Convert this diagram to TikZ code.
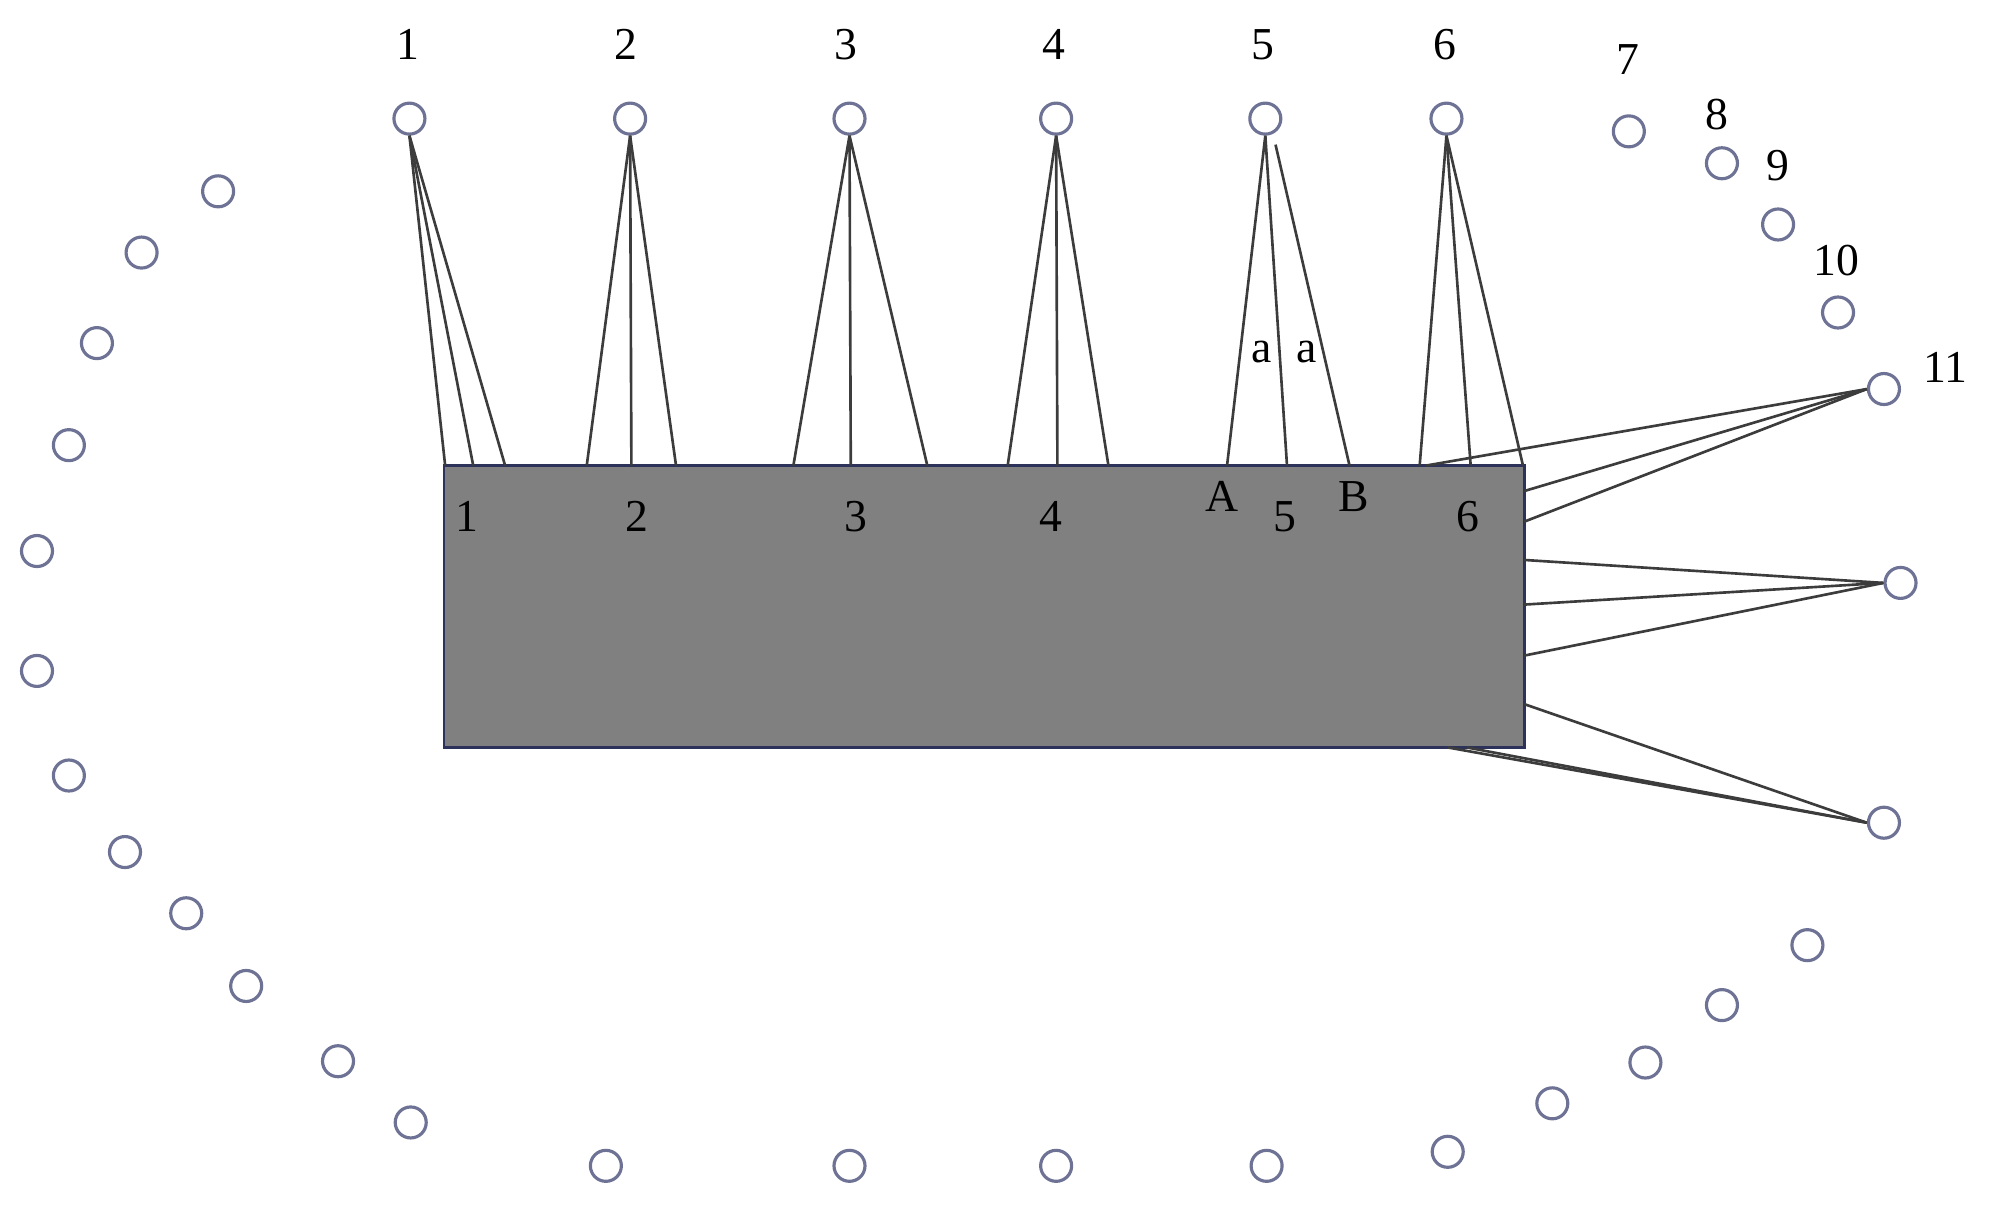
\documentclass[tikz,border=0pt]{standalone}
\usepackage{fontspec}
\setmainfont{Liberation Serif}
\usetikzlibrary{calc}
\definecolor{ringc}{RGB}{110,115,150}
\definecolor{boxfill}{RGB}{128,128,128}
\definecolor{boxline}{RGB}{45,50,90}
\definecolor{wirec}{RGB}{60,60,60}
\begin{document}
\begin{tikzpicture}[x=0.012755cm,y=-0.012755cm,
  ring/.style={circle,draw=ringc,line width=0.9pt,fill=white,minimum size=0.31cm,inner sep=0pt},
  wire/.style={draw=wirec,line width=0.75pt},
  lab/.style={font=\fontsize{13}{15}\selectfont,inner sep=0pt,text=black},
  rectbox/.style={draw=boxline,fill=boxfill,line width=0.8pt,inner sep=0pt,outer sep=0pt,minimum width=10.803cm,minimum height=2.819cm}]
\useasboundingbox (0,0) rectangle (1568,945);
% main block
\node[rectbox] (R) at (771.5,475.5) {};
% top rings
\node[ring] (t1) at (321,93) {};
\node[ring] (t2) at (494,93) {};
\node[ring] (t3) at (666,93) {};
\node[ring] (t4) at (828,93) {};
\node[ring] (t5) at (992,93) {};
\node[ring] (t6) at (1134,93) {};
% top-right arc
\node[ring] (t7) at (1277,103) {};
\node[ring] (t8) at (1350,128) {};
\node[ring] (t9) at (1394,176) {};
\node[ring] (t10) at (1441,245) {};
\node[ring] (r1) at (1477,305) {};
\node[ring] (r2) at (1490,457) {};
\node[ring] (r3) at (1477,645) {};
% bottom-right arc
\node[ring] (b1) at (1417,741) {};
\node[ring] (b2) at (1350,788) {};
\node[ring] (b3) at (1290,833) {};
\node[ring] (b4) at (1217,865) {};
\node[ring] (b5) at (1135,903) {};
% bottom
\node[ring] (b6) at (993,914) {};
\node[ring] (b7) at (828,914) {};
\node[ring] (b8) at (666,914) {};
\node[ring] (b9) at (475,914) {};
% left arc
\node[ring] (l1) at (322,880) {};
\node[ring] (l2) at (265,832) {};
\node[ring] (l3) at (193,773) {};
\node[ring] (l4) at (146,716) {};
\node[ring] (l5) at (98,668) {};
\node[ring] (l6) at (54,608) {};
\node[ring] (l7) at (29,526) {};
\node[ring] (l8) at (29,432) {};
\node[ring] (l9) at (54,349) {};
\node[ring] (l10) at (76,269) {};
\node[ring] (l11) at (111,198) {};
\node[ring] (l12) at (171,150) {};
% ring labels
\node[lab] (n1) at (320,35) {1};
\node[lab] (n2) at (491,35) {2};
\node[lab] (n3) at (663,35) {3};
\node[lab] (n4) at (826,35) {4};
\node[lab] (n5) at (990,35) {5};
\node[lab] (n6) at (1133,35) {6};
\node[lab] (n7) at (1276,47) {7};
\node[lab] (n8) at (1346,90) {8};
\node[lab] (n9) at (1394,130) {9};
\node[lab] (n10) at (1440,204) {10};
\node[lab] (n11) at (1525,288) {11};
% labels inside block
\node[lab] (p1) at (366,405) {1};
\node[lab] (p2) at (499,405) {2};
\node[lab] (p3) at (671,405) {3};
\node[lab] (p4) at (824,405) {4};
\node[lab] (pA) at (958,389) {A};
\node[lab] (p5) at (1007,405) {5};
\node[lab] (pB) at (1061,389) {B};
\node[lab] (p6) at (1151,405) {6};
\node[lab] (a1) at (989,276) {a};
\node[lab] (a2) at (1024,276) {a};
% wires group 1
\draw[wire] (t1.south) -- (349,0 |- R.north);
\draw[wire] (t1.south) -- (371,0 |- R.north);
\draw[wire] (t1.south) -- (396,0 |- R.north);
% group 2
\draw[wire] (t2.south) -- (460,0 |- R.north);
\draw[wire] (t2.south) -- (495,0 |- R.north);
\draw[wire] (t2.south) -- (530,0 |- R.north);
% group 3
\draw[wire] (t3.south) -- (622,0 |- R.north);
\draw[wire] (t3.south) -- (667,0 |- R.north);
\draw[wire] (t3.south) -- (727,0 |- R.north);
% group 4
\draw[wire] (t4.south) -- (790,0 |- R.north);
\draw[wire] (t4.south) -- (829,0 |- R.north);
\draw[wire] (t4.south) -- (869,0 |- R.north);
% group 5
\draw[wire] (t5.south) -- (962,0 |- R.north);
\draw[wire] (t5.south) -- (1009,0 |- R.north);
\draw[wire] ($(t5.south)+(8,7)$) -- (1058,0 |- R.north);
% group 6
\draw[wire] (t6.south) -- (1113,0 |- R.north);
\draw[wire] (t6.south) -- (1153,0 |- R.north);
\draw[wire] (t6.south) -- (1194,0 |- R.north);
% right ring 11
\draw[wire] (r1.west) -- (1118,0 |- R.north);
\draw[wire] (r1.west) -- (R.east |- 0,385);
\draw[wire] (r1.west) -- (R.east |- 0,409);
% right middle
\draw[wire] (r2.west) -- (R.east |- 0,439);
\draw[wire] (r2.west) -- (R.east |- 0,474);
\draw[wire] (r2.west) -- (R.east |- 0,514);
% right bottom
\draw[wire] (r3.west) -- (R.east |- 0,552);
\draw[wire] (r3.west) -- (1135,0 |- R.south);
\draw[wire] (r3.west) -- (1150,0 |- R.south);
\end{tikzpicture}
\end{document}
